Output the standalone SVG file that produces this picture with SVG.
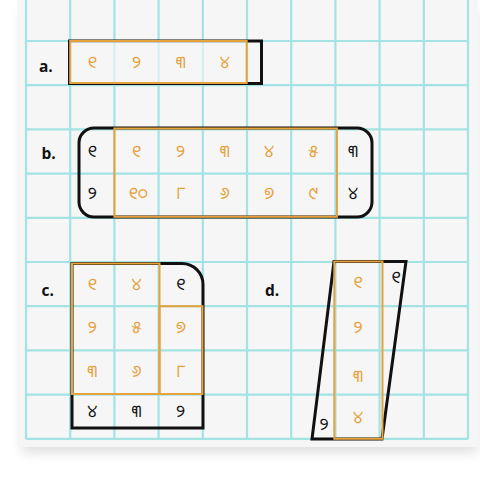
<svg xmlns="http://www.w3.org/2000/svg" width="480" height="477" viewBox="0 0 480 477">
<defs>
<filter id="sh" x="-10%" y="-10%" width="120%" height="130%">
<feGaussianBlur stdDeviation="6"/>
</filter>
<style>
.grid line{stroke:#a3e3e3;stroke-width:2.2}
.blk{fill:none;stroke:#111;stroke-width:3}
.org{fill:none;stroke:#e6a23c;stroke-width:2}
.lbl{font-family:"Open Sans","Liberation Sans",sans-serif;font-weight:bold;font-size:15.5px;fill:#111}
.d{font-family:"Noto Sans Oriya","Lohit Odia","Kalinga","DejaVu Sans",sans-serif;font-size:17px;text-anchor:middle}
.o{fill:#e8a03a}
.k{fill:#111}
</style>
</defs>
<rect width="480" height="477" fill="#ffffff"/>
<rect x="22" y="10" width="455" height="443" fill="#000" opacity="0.12" filter="url(#sh)"/>
<rect x="17" y="0" width="461" height="447" fill="#f6f6f6"/>
<g class="grid">
<line x1="26" y1="0" x2="26" y2="439"/>
<line x1="70.2" y1="0" x2="70.2" y2="439"/>
<line x1="114.4" y1="0" x2="114.4" y2="439"/>
<line x1="158.6" y1="0" x2="158.6" y2="439"/>
<line x1="202.8" y1="0" x2="202.8" y2="439"/>
<line x1="247" y1="0" x2="247" y2="439"/>
<line x1="291.2" y1="0" x2="291.2" y2="439"/>
<line x1="335.4" y1="0" x2="335.4" y2="439"/>
<line x1="379.6" y1="0" x2="379.6" y2="439"/>
<line x1="423.8" y1="0" x2="423.8" y2="439"/>
<line x1="468" y1="0" x2="468" y2="439"/>
<line x1="26" y1="41" x2="468" y2="41"/>
<line x1="26" y1="85.2" x2="468" y2="85.2"/>
<line x1="26" y1="129.4" x2="468" y2="129.4"/>
<line x1="26" y1="173.6" x2="468" y2="173.6"/>
<line x1="26" y1="217.8" x2="468" y2="217.8"/>
<line x1="26" y1="262" x2="468" y2="262"/>
<line x1="26" y1="306.2" x2="468" y2="306.2"/>
<line x1="26" y1="350.4" x2="468" y2="350.4"/>
<line x1="26" y1="394.6" x2="468" y2="394.6"/>
<line x1="26" y1="438.8" x2="468" y2="438.8"/>
</g>
<g id="a">
<text class="lbl" x="39" y="72">a.</text>
<rect class="blk" x="69.5" y="41" width="192" height="42.5"/>
<rect class="org" x="70.2" y="41" width="176.5" height="42" style="fill:#f6f6f6;fill-opacity:0.6"/>
<text class="d o" x="92.3" y="67.5">୧</text>
<text class="d o" x="136.5" y="67.5">୨</text>
<text class="d o" x="180.7" y="67.5">୩</text>
<text class="d o" x="224.9" y="67.5">୪</text>
</g>
<g id="b">
<text class="lbl" x="41.5" y="159">b.</text>
<rect class="blk" x="79" y="128" width="293" height="89" rx="15"/>
<rect class="org" x="114.4" y="128.5" width="222.5" height="88.3"/>
<text class="d k" x="92.3" y="157">୧</text>
<text class="d k" x="92.3" y="199">୨</text>
<text class="d k" x="353" y="157">୩</text>
<text class="d k" x="353" y="199">୪</text>
<text class="d o" x="136.5" y="157">୧</text>
<text class="d o" x="180.7" y="157">୨</text>
<text class="d o" x="224.9" y="157">୩</text>
<text class="d o" x="269.1" y="157">୪</text>
<text class="d o" x="313.3" y="157">୫</text>
<text class="d o" x="138" y="199">୧୦</text>
<text class="d o" x="180.7" y="199">୮</text>
<text class="d o" x="224.9" y="199">୬</text>
<text class="d o" x="269.1" y="199">୭</text>
<text class="d o" x="313.3" y="199">୯</text>
</g>
<g id="c">
<text class="lbl" x="41.5" y="295.5">c.</text>
<path class="blk" d="M72,263.5 H182 A21,21 0 0 1 203,284.5 V428 H72 Z"/>
<rect class="org" x="72" y="263.5" width="87.5" height="130.5"/>
<rect class="org" x="159.5" y="306.2" width="43" height="87.8"/>
<text class="d o" x="92.3" y="290">୧</text>
<text class="d o" x="136.5" y="290">୪</text>
<text class="d k" x="180.7" y="290">୧</text>
<text class="d o" x="92.3" y="332.5">୨</text>
<text class="d o" x="136.5" y="332.5">୫</text>
<text class="d o" x="180.7" y="332.5">୭</text>
<text class="d o" x="92.3" y="377">୩</text>
<text class="d o" x="136.5" y="377">୬</text>
<text class="d o" x="180.7" y="377">୮</text>
<text class="d k" x="92.3" y="417">୪</text>
<text class="d k" x="136.5" y="417">୩</text>
<text class="d k" x="180.7" y="417">୨</text>
</g>
<g id="d">
<text class="lbl" x="265" y="295.5">d.</text>
<polygon class="blk" points="334,261.5 406,261.5 382,439 312,439"/>
<rect class="org" x="334.3" y="261.5" width="48.2" height="177.3"/>
<text class="d k" x="396" y="283">୧</text>
<text class="d o" x="358" y="288">୧</text>
<text class="d o" x="358" y="333">୨</text>
<text class="d o" x="358" y="382">୩</text>
<text class="d o" x="358" y="423">୪</text>
<text class="d k" x="324" y="430">୨</text>
</g>
</svg>
